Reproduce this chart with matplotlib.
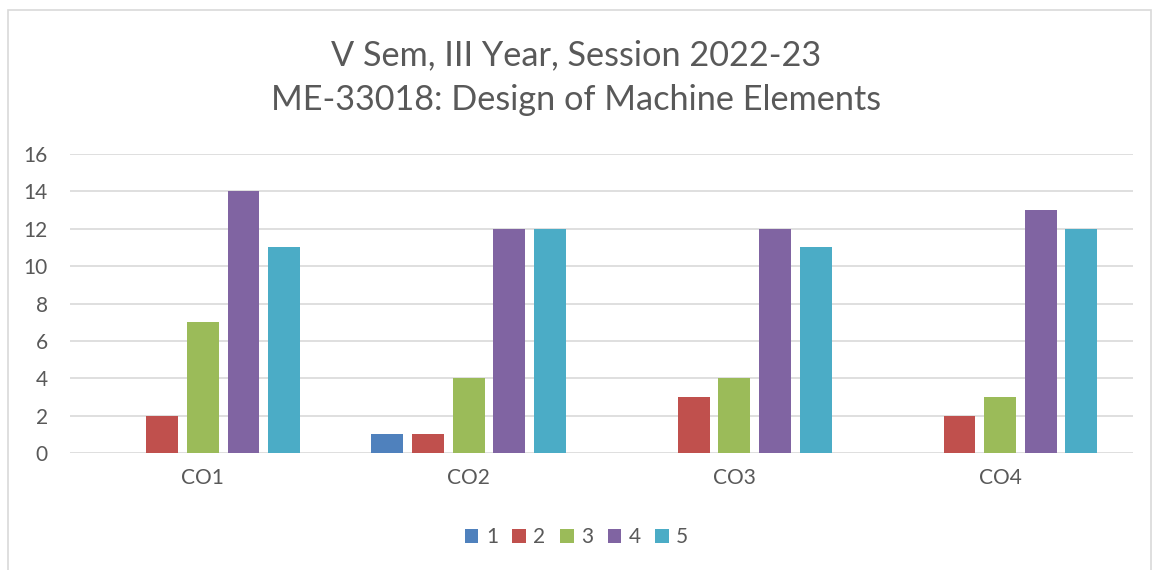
import matplotlib.pyplot as plt
import numpy as np
from matplotlib.patches import Rectangle

# Data
categories = ["CO1", "CO2", "CO3", "CO4"]
series_names = ["1", "2", "3", "4", "5"]
values = {
    "1": [0, 1, 0, 0],
    "2": [2, 1, 3, 2],
    "3": [7, 4, 4, 3],
    "4": [14, 12, 12, 13],
    "5": [11, 12, 11, 12],
}
colors = ["#4F81BD", "#C0504D", "#9BBB59", "#8064A2", "#4BACC6"]

plt.rcParams['font.family'] = ['Lato', 'DejaVu Sans']
text_grey = "#595959"

W, H = 1153, 570
fig = plt.figure(figsize=(W / 100, H / 100), dpi=100)

# chart border
fig.patches.append(Rectangle((8 / W, -0.01), (W - 10) / W, (H - 10) / H + 0.01,
                             transform=fig.transFigure, fill=False,
                             edgecolor="#D9D9D9", linewidth=1.2))

ax = fig.add_axes([70 / W, (H - 453) / H, (1133 - 70) / W, (453 - 154) / H])

x = np.arange(len(categories))
step = 0.1528
width = 0.12
for i, name in enumerate(series_names):
    offs = (i - 2) * step
    ax.bar(x + offs, values[name], width, color=colors[i], label=name, zorder=3)

ax.set_xlim(-0.5, len(categories) - 0.5)
ax.set_ylim(0, 16)
ax.set_yticks(range(0, 17, 2))
ax.set_xticks(x)
ax.set_xticklabels(categories)
ax.grid(axis="y", color="#D9D9D9", linewidth=1.2, zorder=0)
for s in ax.spines.values():
    s.set_visible(False)
ax.tick_params(axis="both", length=0, labelsize=15, labelcolor=text_grey)
ax.tick_params(axis="y", pad=16)
ax.tick_params(axis="x", pad=11)

fig.text(0.5, (H - 55) / H, "V Sem, III Year, Session 2022-23", ha="center",
         va="center", fontsize=24.7, color=text_grey)
fig.text(0.5, (H - 100) / H, "ME-33018: Design of Machine Elements", ha="center",
         va="center", fontsize=24.7, color=text_grey)

fig.legend(loc="center", bbox_to_anchor=(0.5, (H - 537) / H), ncol=5, frameon=False,
           fontsize=15, labelcolor=text_grey, handlelength=0.65, handleheight=0.65,
           handletextpad=0.35, columnspacing=0.7)

fig.savefig("out.png", dpi=100)
